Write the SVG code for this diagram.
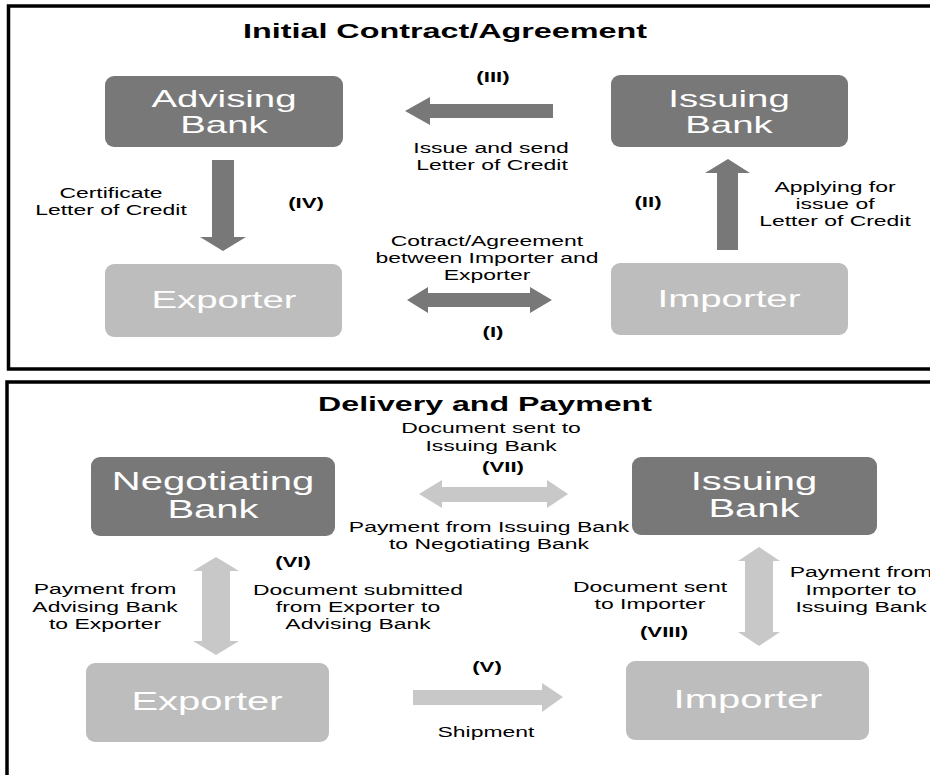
<svg xmlns="http://www.w3.org/2000/svg" width="930" height="775" viewBox="0 0 930 775">
  <style>
    .panel { fill: #ffffff; stroke: #000000; stroke-width: 3.5; }
    .dark { fill: #787878; }
    .light { fill: #bdbdbd; }
    .arr-dark { fill: #787878; }
    .arr-light { fill: #c8c8c8; }
    text { font-family: "Liberation Sans", Arial, sans-serif; text-anchor: middle; }
    .title { font-size: 21px; font-weight: bold; fill: #000000; }
    .lbl { font-size: 15.5px; fill: #000000; }
    .num { font-size: 15px; font-weight: bold; fill: #000000; }
    .node { font-size: 24px; fill: #ffffff; }
    .node-b { font-size: 25px; fill: #ffffff; }
  </style>

  <!-- panel frames -->
  <rect class="panel" x="8.5" y="6" width="1000" height="363"/>
  <rect class="panel" x="7" y="382" width="1000" height="500"/>

  <!-- connectors -->
  <g id="connectors">
    <!-- (III) issuing bank to advising bank -->
    <polygon class="arr-dark" points="405,111 430,97 430,104 553,104 553,118 430,118 430,125"/>
    <!-- (IV) advising bank to exporter -->
    <polygon class="arr-dark" points="212,160 234,160 234,237 246,237 223,251 200,237 212,237"/>
    <!-- (I) exporter and importer -->
    <polygon class="arr-dark" points="407,300 428,287 428,293 530,293 530,287 552,300 530,313 530,307 428,307 428,313"/>
    <!-- (II) importer to issuing bank -->
    <polygon class="arr-dark" points="717,250 738,250 738,173 750,173 728,159 705,173 717,173"/>
    <!-- (VII) negotiating bank and issuing bank -->
    <polygon class="arr-light" points="419,494 442,480 442,487 547,487 547,480 568,494 547,508 547,502 442,502 442,508"/>
    <!-- (VI) negotiating bank and exporter -->
    <polygon class="arr-light" points="216,557 239,571 230,571 230,641 239,641 216,655 193,641 202,641 202,571 193,571"/>
    <!-- (VIII) issuing bank and importer -->
    <polygon class="arr-light" points="759,547 780,561 773,561 773,632 780,632 759,646 738,632 745,632 745,561 738,561"/>
    <!-- (V) shipment -->
    <polygon class="arr-light" points="413,690 542,690 542,683 563,697 542,712 542,705 413,705"/>
  </g>

  <!-- section titles -->
  <text class="title" transform="translate(445,38) scale(1.54,1)">Initial Contract/Agreement</text>
  <text class="title" transform="translate(485,411) scale(1.53,1)">Delivery and Payment</text>

  <!-- upper section nodes -->
  <g id="advising-bank">
    <rect class="dark" x="105" y="76" width="238" height="71" rx="9"/>
    <text class="node" transform="translate(224,107) scale(1.6,1)">Advising</text>
    <text class="node" transform="translate(224,133) scale(1.6,1)">Bank</text>
  </g>
  <g id="exporter-1">
    <rect class="light" x="105" y="264" width="237" height="73" rx="9"/>
    <text class="node" transform="translate(224,308) scale(1.6,1)">Exporter</text>
  </g>
  <g id="issuing-bank-1">
    <rect class="dark" x="611" y="75" width="237" height="72" rx="9"/>
    <text class="node" transform="translate(729,107) scale(1.6,1)">Issuing</text>
    <text class="node" transform="translate(729,133) scale(1.6,1)">Bank</text>
  </g>
  <g id="importer-1">
    <rect class="light" x="611" y="263" width="237" height="72" rx="9"/>
    <text class="node" transform="translate(729,307) scale(1.6,1)">Importer</text>
  </g>

  <!-- upper section labels -->
  <g id="labels-1">
    <text class="num" transform="translate(493,82) scale(1.48,1)">(III)</text>
    <text class="lbl" transform="translate(491,153) scale(1.48,1)">Issue and send</text>
    <text class="lbl" transform="translate(492,170) scale(1.48,1)">Letter of Credit</text>
    <text class="lbl" transform="translate(111,198) scale(1.48,1)">Certificate</text>
    <text class="lbl" transform="translate(111,215) scale(1.48,1)">Letter of Credit</text>
    <text class="num" transform="translate(306,208) scale(1.48,1)">(IV)</text>
    <text class="lbl" transform="translate(487,246) scale(1.48,1)">Cotract/Agreement</text>
    <text class="lbl" transform="translate(487,263) scale(1.48,1)">between Importer and</text>
    <text class="lbl" transform="translate(487,280) scale(1.48,1)">Exporter</text>
    <text class="num" transform="translate(493,337) scale(1.48,1)">(I)</text>
    <text class="num" transform="translate(648,207) scale(1.48,1)">(II)</text>
    <text class="lbl" transform="translate(835,192) scale(1.48,1)">Applying for</text>
    <text class="lbl" transform="translate(835,209) scale(1.48,1)">issue of</text>
    <text class="lbl" transform="translate(835,226) scale(1.48,1)">Letter of Credit</text>
  </g>

  <!-- lower section nodes -->
  <g id="negotiating-bank">
    <rect class="dark" x="91" y="457" width="244" height="79" rx="9"/>
    <text class="node-b" transform="translate(213,490) scale(1.6,1)">Negotiating</text>
    <text class="node-b" transform="translate(213,518) scale(1.6,1)">Bank</text>
  </g>
  <g id="exporter-2">
    <rect class="light" x="86" y="663" width="243" height="79" rx="9"/>
    <text class="node-b" transform="translate(207,710) scale(1.6,1)">Exporter</text>
  </g>
  <g id="issuing-bank-2">
    <rect class="dark" x="632" y="457" width="245" height="78" rx="9"/>
    <text class="node-b" transform="translate(754,490) scale(1.6,1)">Issuing</text>
    <text class="node-b" transform="translate(754,517) scale(1.6,1)">Bank</text>
  </g>
  <g id="importer-2">
    <rect class="light" x="626" y="661" width="243" height="79" rx="9"/>
    <text class="node-b" transform="translate(748,708) scale(1.6,1)">Importer</text>
  </g>

  <!-- lower section labels -->
  <g id="labels-2">
    <text class="lbl" transform="translate(491,433) scale(1.48,1)">Document sent to</text>
    <text class="lbl" transform="translate(491,451) scale(1.48,1)">Issuing Bank</text>
    <text class="num" transform="translate(503,472) scale(1.48,1)">(VII)</text>
    <text class="lbl" transform="translate(489,532) scale(1.48,1)">Payment from Issuing Bank</text>
    <text class="lbl" transform="translate(489,549) scale(1.48,1)">to Negotiating Bank</text>
    <text class="num" transform="translate(293,567) scale(1.48,1)">(VI)</text>
    <text class="lbl" transform="translate(105,594) scale(1.48,1)">Payment from</text>
    <text class="lbl" transform="translate(105,612) scale(1.48,1)">Advising Bank</text>
    <text class="lbl" transform="translate(105,629) scale(1.48,1)">to Exporter</text>
    <text class="lbl" transform="translate(358,595) scale(1.48,1)">Document submitted</text>
    <text class="lbl" transform="translate(358,612) scale(1.48,1)">from Exporter to</text>
    <text class="lbl" transform="translate(358,629) scale(1.48,1)">Advising Bank</text>
    <text class="lbl" transform="translate(650,592) scale(1.48,1)">Document sent</text>
    <text class="lbl" transform="translate(650,609) scale(1.48,1)">to Importer</text>
    <text class="num" transform="translate(664,637) scale(1.48,1)">(VIII)</text>
    <text class="lbl" transform="translate(861,577) scale(1.48,1)">Payment from</text>
    <text class="lbl" transform="translate(861,595) scale(1.48,1)">Importer to</text>
    <text class="lbl" transform="translate(861,612) scale(1.48,1)">Issuing Bank</text>
    <text class="num" transform="translate(487,672) scale(1.48,1)">(V)</text>
    <text class="lbl" transform="translate(486,737) scale(1.48,1)">Shipment</text>
  </g>
</svg>
